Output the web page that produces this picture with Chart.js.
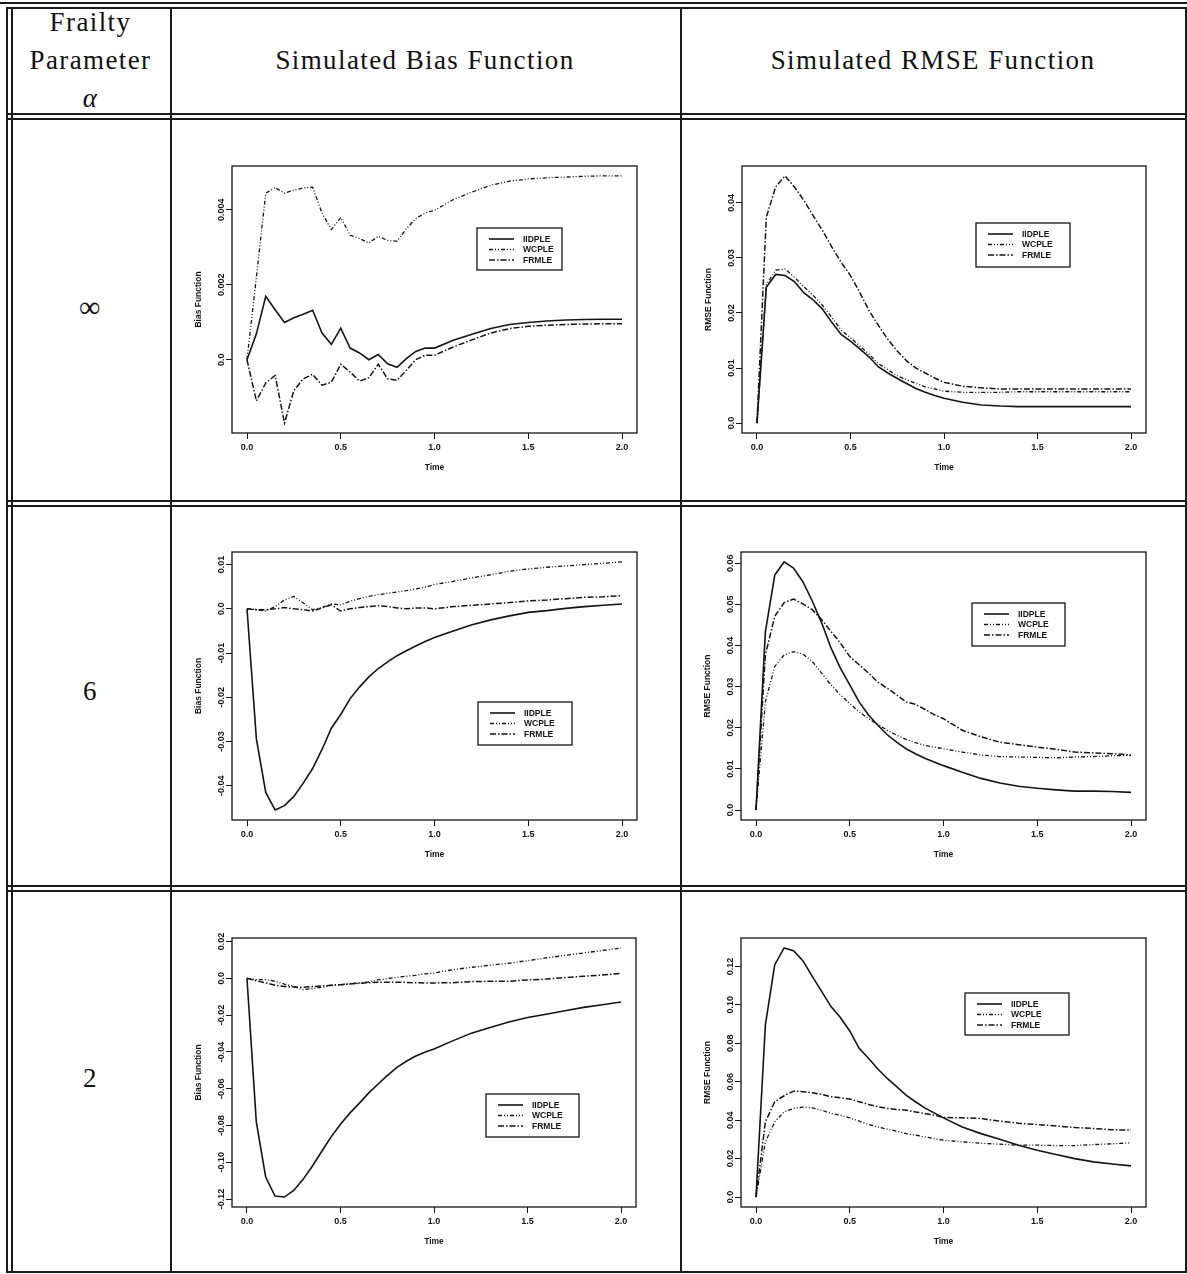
<!DOCTYPE html>
<html>
<head>
<meta charset="utf-8">
<script src="https://cdn.jsdelivr.net/npm/chart.js@4.4.0/dist/chart.umd.min.js"></script>
<style>
  body { margin: 0; background: #fff; width: 1187px; height: 1274px; position: relative; overflow: hidden; font-family: "Liberation Serif", serif; }
  .h { position: absolute; height: 1.5px; background: #1a1a1a; }
  .v { position: absolute; width: 1.5px; background: #1a1a1a; }
  .txt { position: absolute; text-align: center; font-size: 27px; letter-spacing: 1.4px; color: #111; line-height: 38px; }
  canvas { position: absolute; }
</style>
</head>
<body>
<!-- table rules -->
<div class="h" style="left:0;top:2px;width:1187px"></div>
<div class="h" style="left:6px;top:7px;width:1181px"></div>
<div class="h" style="left:6px;top:113px;width:1181px"></div>
<div class="h" style="left:6px;top:118px;width:1181px"></div>
<div class="h" style="left:6px;top:500px;width:1181px"></div>
<div class="h" style="left:6px;top:505px;width:1181px"></div>
<div class="h" style="left:6px;top:885px;width:1181px"></div>
<div class="h" style="left:6px;top:890px;width:1181px"></div>
<div class="h" style="left:6px;top:1271px;width:1181px"></div>
<div class="v" style="left:6px;top:7px;height:1266px"></div>
<div class="v" style="left:11px;top:7px;height:1266px"></div>
<div class="v" style="left:170px;top:7px;height:1266px"></div>
<div class="v" style="left:680px;top:7px;height:1266px"></div>
<div class="v" style="left:1185px;top:7px;height:1266px"></div>

<div class="txt" style="left:11px;width:159px;top:3px">Frailty<br>Parameter<br><i>α</i></div>
<div class="txt" style="left:170px;width:510px;top:41px">Simulated Bias Function</div>
<div class="txt" style="left:680px;width:506px;top:41px">Simulated RMSE Function</div>
<div class="txt" style="left:11px;width:159px;top:288px;font-size:30px">∞</div>
<div class="txt" style="left:11px;width:159px;top:672px">6</div>
<div class="txt" style="left:11px;width:159px;top:1059px">2</div>

<script>
// time grid
const time = [0, 0.05, 0.1, 0.15, 0.2, 0.25, 0.3, 0.35, 0.4, 0.45, 0.5, 0.55, 0.6, 0.65, 0.7, 0.75, 0.8, 0.85, 0.9, 0.95, 1.0,
              1.1, 1.2, 1.3, 1.4, 1.5, 1.6, 1.7, 1.8, 1.9, 2.0];
const xTicks = [0, 0.5, 1, 1.5, 2];
const xTickLabels = ['0.0', '0.5', '1.0', '1.5', '2.0'];
const names = ['IIDPLE', 'WCPLE', 'FRMLE'];

// alpha = infinity
const biasInfIid = [0, 0.00069, 0.00169, 0.00133, 0.00099, 0.00112, 0.00121, 0.00132, 0.00071, 0.00041, 0.00084, 0.00031, 0.00018, 0, 0.00014, -0.00011, -0.0002, 0.00003, 0.00022, 0.00031, 0.00031,
                    0.00052, 0.00068, 0.00083, 0.00094, 0.00099, 0.00103, 0.00106, 0.00107, 0.00108, 0.00108];
const biasInfWc = [0, 0.0022, 0.00444, 0.00459, 0.00444, 0.00452, 0.00458, 0.0046, 0.00391, 0.00347, 0.00379, 0.00332, 0.00323, 0.00311, 0.00329, 0.00318, 0.00316, 0.00349, 0.00376, 0.00391, 0.00398,
                   0.00427, 0.00447, 0.00465, 0.00476, 0.00482, 0.00485, 0.00487, 0.00489, 0.0049, 0.0049];
const biasInfFr = [0, -0.0011, -0.00062, -0.00042, -0.00169, -0.00082, -0.00051, -0.00039, -0.00068, -0.0006, -0.00012, -0.00033, -0.00057, -0.00048, -0.00012, -0.00051, -0.00055, -0.00028, 0, 0.00012, 0.00012,
                   0.00034, 0.00053, 0.00071, 0.00083, 0.00089, 0.00092, 0.00094, 0.00095, 0.00096, 0.00096];
const rmseInfIid = [0, 0.02465, 0.027, 0.0268, 0.0257, 0.0237, 0.0224, 0.0207, 0.0183, 0.0161, 0.0149, 0.0135, 0.012, 0.0102, 0.0091, 0.0081, 0.0072, 0.0063, 0.0056, 0.005, 0.0045,
                    0.0038, 0.0033, 0.0031, 0.003, 0.003, 0.003, 0.003, 0.003, 0.003, 0.003];
const rmseInfWc = [0, 0.0251, 0.0278, 0.028, 0.0265, 0.0248, 0.0232, 0.0214, 0.0192, 0.0169, 0.0155, 0.014, 0.0125, 0.0108, 0.0097, 0.0086, 0.0079, 0.0072, 0.0066, 0.0062, 0.0058,
                   0.0056, 0.0056, 0.0056, 0.0057, 0.0057, 0.0057, 0.0057, 0.0057, 0.0057, 0.0057];
const rmseInfFr = [0, 0.0374, 0.0429, 0.0449, 0.0429, 0.0405, 0.0377, 0.035, 0.032, 0.0292, 0.0268, 0.0237, 0.0204, 0.0177, 0.0152, 0.0131, 0.0113, 0.01, 0.0091, 0.0082, 0.0074,
                   0.0067, 0.0064, 0.0062, 0.0062, 0.0062, 0.0062, 0.0062, 0.0062, 0.0062, 0.0062];

// alpha = 6
const bias6Iid = [0, -0.0294, -0.0415, -0.0455, -0.0445, -0.0424, -0.0394, -0.0361, -0.0318, -0.027, -0.0239, -0.0203, -0.0177, -0.0154, -0.0135, -0.012, -0.0106, -0.0095, -0.0084, -0.0074, -0.0065,
                  -0.005, -0.0036, -0.0025, -0.0016, -0.0008, -0.0004, 0.0001, 0.0005, 0.0008, 0.0011];
const bias6Wc = [0, -0.0002, -0.0005, 0.0005, 0.002, 0.0028, 0.0013, -0.0002, 0.0003, 0.0011, 0.0009, 0.0017, 0.0023, 0.0028, 0.0032, 0.0035, 0.0038, 0.0041, 0.0045, 0.0049, 0.0055,
                 0.0062, 0.007, 0.0077, 0.0085, 0.009, 0.0094, 0.0097, 0.01, 0.0103, 0.0106];
const bias6Fr = [0, -0.0002, -0.0002, 0, 0.0003, 0, -0.0002, -0.0005, 0.0002, 0.0009, -0.0005, 0, 0.0003, 0.0005, 0.0007, 0.0005, 0.0002, 0, 0.0002, 0.0002, 0,
                 0.0005, 0.0008, 0.0011, 0.0014, 0.0018, 0.002, 0.0023, 0.0026, 0.0027, 0.003];
const rmse6Iid = [0, 0.0433, 0.0571, 0.0603, 0.0588, 0.0555, 0.0508, 0.0455, 0.0394, 0.0345, 0.0304, 0.0263, 0.0231, 0.0206, 0.0183, 0.0165, 0.0149, 0.0137, 0.0126, 0.0117, 0.0108,
                  0.0092, 0.0077, 0.0066, 0.0058, 0.0053, 0.0049, 0.0046, 0.0046, 0.0045, 0.0043];
const rmse6Wc = [0, 0.0263, 0.0349, 0.0377, 0.0385, 0.0379, 0.0361, 0.0333, 0.0304, 0.028, 0.0259, 0.0239, 0.0222, 0.0208, 0.0194, 0.0182, 0.0172, 0.0164, 0.0157, 0.0153, 0.0149,
                 0.0141, 0.0134, 0.013, 0.0129, 0.0128, 0.0127, 0.0129, 0.013, 0.0132, 0.0133];
const rmse6Fr = [0, 0.0377, 0.0471, 0.0504, 0.0513, 0.0501, 0.0487, 0.0463, 0.0434, 0.0406, 0.0373, 0.0353, 0.0333, 0.0311, 0.0296, 0.028, 0.0263, 0.0257, 0.0245, 0.0232, 0.0222,
                 0.0194, 0.0178, 0.0165, 0.0159, 0.0153, 0.0148, 0.0141, 0.0139, 0.0137, 0.0134];

// alpha = 2
const bias2Iid = [0, -0.078, -0.108, -0.1184, -0.1189, -0.1153, -0.1093, -0.102, -0.094, -0.0862, -0.0793, -0.0733, -0.068, -0.0624, -0.0576, -0.0529, -0.0485, -0.0452, -0.0424, -0.0402, -0.0384,
                  -0.034, -0.0298, -0.0267, -0.0238, -0.0213, -0.0195, -0.0176, -0.0158, -0.0144, -0.0129];
const bias2Wc = [0, -0.0007, -0.0007, -0.0016, -0.0031, -0.0044, -0.0062, -0.0056, -0.0049, -0.0038, -0.0035, -0.0029, -0.0025, -0.002, -0.0009, -0.0002, 0.0005, 0.0011, 0.0016, 0.0024, 0.0029,
                 0.0047, 0.006, 0.0071, 0.0082, 0.0096, 0.0111, 0.0124, 0.0138, 0.0151, 0.0165];
const bias2Fr = [0, -0.0013, -0.0025, -0.0038, -0.0044, -0.0047, -0.0049, -0.0045, -0.0042, -0.0038, -0.0035, -0.0031, -0.0027, -0.0024, -0.0022, -0.0022, -0.0022, -0.0022, -0.0024, -0.0025, -0.0025,
                 -0.0024, -0.0018, -0.0016, -0.0016, -0.0009, -0.0004, 0.0004, 0.0011, 0.0018, 0.0027];
const rmse2Iid = [0, 0.0896, 0.1209, 0.1296, 0.1282, 0.123, 0.1148, 0.107, 0.0991, 0.0934, 0.0864, 0.0774, 0.0722, 0.0666, 0.0617, 0.0574, 0.053, 0.0496, 0.0464, 0.0438, 0.0412,
                  0.0365, 0.033, 0.0301, 0.027, 0.0243, 0.0221, 0.02, 0.0183, 0.0172, 0.0162];
const rmse2Wc = [0, 0.0287, 0.0391, 0.0443, 0.0461, 0.0468, 0.0464, 0.0452, 0.0435, 0.0426, 0.0412, 0.0395, 0.0377, 0.0365, 0.0353, 0.0343, 0.033, 0.0322, 0.0313, 0.0304, 0.0296,
                 0.0287, 0.028, 0.0275, 0.027, 0.027, 0.0268, 0.0268, 0.0273, 0.0277, 0.0282];
const rmse2Fr = [0, 0.0391, 0.0496, 0.0527, 0.0551, 0.0548, 0.0543, 0.0534, 0.0522, 0.0517, 0.051, 0.0496, 0.0482, 0.047, 0.0461, 0.0456, 0.0452, 0.0443, 0.0435, 0.0426, 0.0414,
                 0.0412, 0.0409, 0.0395, 0.0384, 0.0377, 0.037, 0.0362, 0.0357, 0.035, 0.0348];

// y tick values and labels
const yTicksBiasInf = [0, 0.002, 0.004];
const yLabelsBiasInf = ['0.0', '0.002', '0.004'];
const yTicksRmseInf = [0, 0.01, 0.02, 0.03, 0.04];
const yLabelsRmseInf = ['0.0', '0.01', '0.02', '0.03', '0.04'];
const yTicksBias6 = [-0.04, -0.03, -0.02, -0.01, 0, 0.01];
const yLabelsBias6 = ['-0.04', '-0.03', '-0.02', '-0.01', '0.0', '0.01'];
const yTicksRmse6 = [0, 0.01, 0.02, 0.03, 0.04, 0.05, 0.06];
const yLabelsRmse6 = ['0.0', '0.01', '0.02', '0.03', '0.04', '0.05', '0.06'];
const yTicksBias2 = [-0.12, -0.1, -0.08, -0.06, -0.04, -0.02, 0, 0.02];
const yLabelsBias2 = ['-0.12', '-0.10', '-0.08', '-0.06', '-0.04', '-0.02', '0.0', '0.02'];
const yTicksRmse2 = [0, 0.02, 0.04, 0.06, 0.08, 0.10, 0.12];
const yLabelsRmse2 = ['0.0', '0.02', '0.04', '0.06', '0.08', '0.10', '0.12'];

// line styles: solid, dash-dot-dot, dash-dot
const lineStyles = [
    { dash: [], width: 1.6 },
    { dash: [4, 2, 1, 2, 1, 2], width: 1.3 },
    { dash: [6, 2, 1.5, 2], width: 1.5 }
];
const ink = '#141414';
const sansBold = 'bold 9px "Liberation Sans", Arial, sans-serif';

// R-like box, labels and legend
const rStyle = {
    id: 'rStyle',
    afterDraw(chart) {
        const cfg = chart.options.plugins.rStyle;
        const { ctx, chartArea: a } = chart;
        const xs = chart.scales.x;
        const ys = chart.scales.y;
        ctx.save();
        ctx.strokeStyle = ink;
        ctx.lineWidth = 1.3;
        ctx.strokeRect(a.left, a.top, a.right - a.left, a.bottom - a.top);

        ctx.fillStyle = ink;
        ctx.font = sansBold;
        ctx.textAlign = 'center';
        ctx.textBaseline = 'middle';
        xs.ticks.forEach((t, i) => {
            ctx.fillText(xTickLabels[i], xs.getPixelForValue(t.value), a.bottom + 15);
        });
        ys.ticks.forEach((t, i) => {
            ctx.save();
            ctx.translate(a.left - 10, ys.getPixelForValue(t.value));
            ctx.rotate(-Math.PI / 2);
            ctx.fillText(cfg.yLabels[i], 0, 0);
            ctx.restore();
        });

        ctx.font = 'bold 8.5px "Liberation Sans", Arial, sans-serif';
        ctx.fillText('Time', (a.left + a.right) / 2, a.bottom + 35);
        ctx.save();
        ctx.translate(a.left - 33, (a.top + a.bottom) / 2);
        ctx.rotate(-Math.PI / 2);
        ctx.fillText(cfg.yTitle, 0, 0);
        ctx.restore();

        // legend
        const lx = a.left + cfg.legend[0];
        const ly = a.top + cfg.legend[1];
        const lw = cfg.legend[2];
        const lh = cfg.legend[3];
        ctx.fillStyle = '#fff';
        ctx.fillRect(lx, ly, lw, lh);
        ctx.strokeStyle = ink;
        ctx.lineWidth = 1.3;
        ctx.strokeRect(lx, ly, lw, lh);
        ctx.fillStyle = ink;
        ctx.textAlign = 'left';
        ctx.font = 'bold 8.5px "Liberation Sans", Arial, sans-serif';
        chart.data.datasets.forEach((ds, i) => {
            const ry = ly + 11 + i * 10.5;
            ctx.save();
            ctx.setLineDash(ds.borderDash);
            ctx.lineWidth = ds.borderWidth;
            ctx.beginPath();
            ctx.moveTo(lx + 12, ry);
            ctx.lineTo(lx + 37, ry);
            ctx.stroke();
            ctx.restore();
            ctx.fillText(ds.label, lx + 46, ry + 0.5);
        });
        ctx.restore();
    }
};

function makeChart(box, seriesList, yTicks, yLabels, yTitle, legend) {
    const padL = 50, padT = 6, padR = 6, padB = 44;
    const canvas = document.createElement('canvas');
    const w = box[2] - box[0] + padL + padR;
    const h = box[3] - box[1] + padT + padB;
    canvas.width = w;
    canvas.height = h;
    canvas.style.left = (box[0] - padL) + 'px';
    canvas.style.top = (box[1] - padT) + 'px';
    canvas.style.width = w + 'px';
    canvas.style.height = h + 'px';
    document.body.appendChild(canvas);

    const all = seriesList.flat();
    const lo = Math.min(...all);
    const hi = Math.max(...all);
    const pad = (hi - lo) * 0.04;

    new Chart(canvas.getContext('2d'), {
        type: 'line',
        data: {
            datasets: seriesList.map((vals, i) => ({
                label: names[i],
                data: time.map((t, k) => ({ x: t, y: vals[k] })),
                borderColor: ink,
                borderWidth: lineStyles[i].width,
                borderDash: lineStyles[i].dash,
                pointRadius: 0,
                fill: false,
                tension: 0
            }))
        },
        options: {
            responsive: false,
            animation: false,
            devicePixelRatio: 1,
            layout: { padding: { top: padT, right: padR, left: 0, bottom: 0 } },
            plugins: {
                legend: { display: false },
                tooltip: { enabled: false },
                rStyle: { yLabels: yLabels, yTitle: yTitle, legend: legend }
            },
            scales: {
                x: {
                    type: 'linear',
                    min: -0.08,
                    max: 2.08,
                    afterBuildTicks: (s) => { s.ticks = xTicks.map((v) => ({ value: v })); },
                    afterFit: (s) => { s.height = padB; },
                    ticks: { display: false },
                    border: { display: false },
                    grid: { drawOnChartArea: false, drawTicks: true, tickLength: 6, color: ink, lineWidth: 1 }
                },
                y: {
                    type: 'linear',
                    min: lo - pad,
                    max: hi + pad,
                    afterBuildTicks: (s) => { s.ticks = yTicks.map((v) => ({ value: v })); },
                    afterFit: (s) => { s.width = padL; },
                    ticks: { display: false },
                    border: { display: false },
                    grid: { drawOnChartArea: false, drawTicks: true, tickLength: 6, color: ink, lineWidth: 1 }
                }
            }
        },
        plugins: [rStyle]
    });
}

makeChart([232, 166, 637, 433], [biasInfIid, biasInfWc, biasInfFr], yTicksBiasInf, yLabelsBiasInf, 'Bias Function', [245, 62, 85, 42]);
makeChart([742, 166, 1146, 433], [rmseInfIid, rmseInfWc, rmseInfFr], yTicksRmseInf, yLabelsRmseInf, 'RMSE Function', [234, 57, 94, 44]);
makeChart([232, 552, 637, 820], [bias6Iid, bias6Wc, bias6Fr], yTicksBias6, yLabelsBias6, 'Bias Function', [246, 150, 94, 43]);
makeChart([741, 552, 1146, 820], [rmse6Iid, rmse6Wc, rmse6Fr], yTicksRmse6, yLabelsRmse6, 'RMSE Function', [231, 51, 93, 43]);
makeChart([232, 938, 636, 1207], [bias2Iid, bias2Wc, bias2Fr], yTicksBias2, yLabelsBias2, 'Bias Function', [254, 156, 93, 43]);
makeChart([741, 938, 1146, 1207], [rmse2Iid, rmse2Wc, rmse2Fr], yTicksRmse2, yLabelsRmse2, 'RMSE Function', [224, 55, 104, 42]);
</script>
</body>
</html>
